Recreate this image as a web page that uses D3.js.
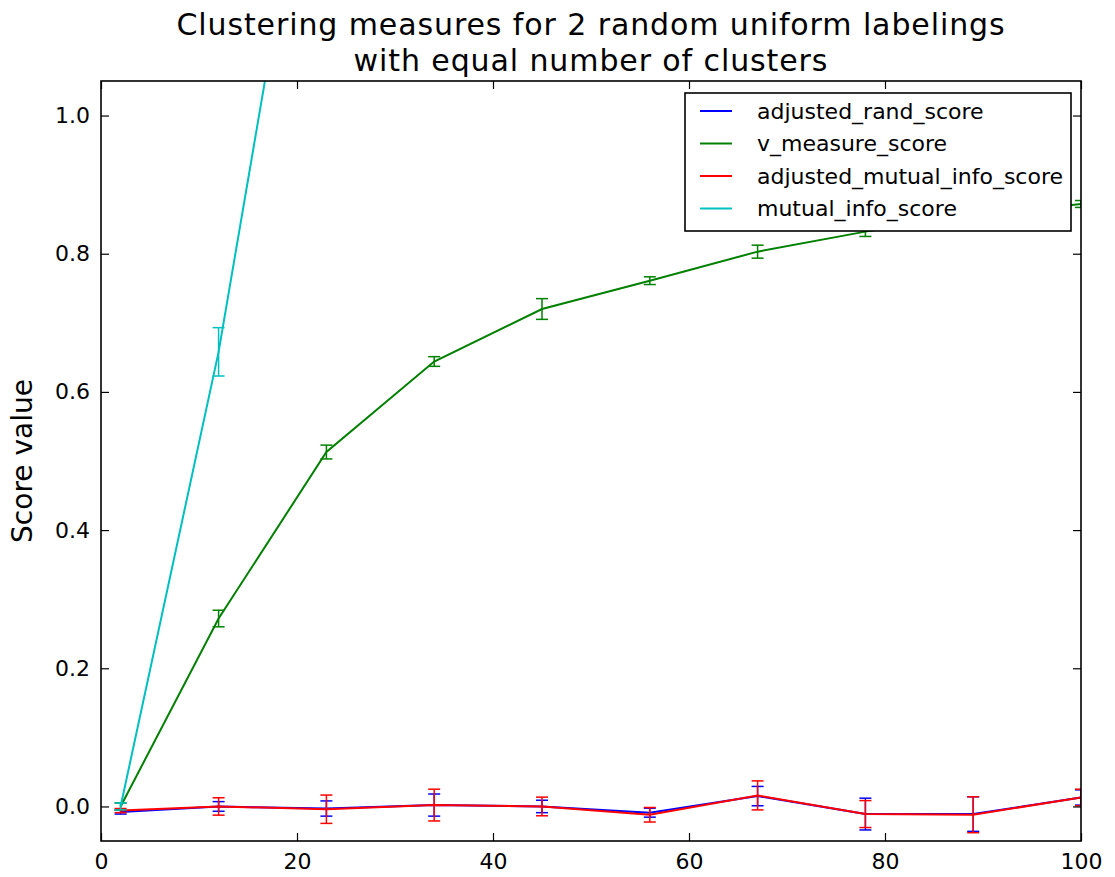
<!DOCTYPE html>
<html>
<head>
<meta charset="UTF-8">
<title>Clustering measures</title>
<style>
  body { margin: 0; background: #fff; }
  text { font-family: "DejaVu Sans", sans-serif; fill: #000; }
</style>
</head>
<body>
<script src="https://d3js.org/d3.v7.min.js"></script>
<svg></svg>
<script>
// number of clusters
let nClusters = [2, 12, 23, 34, 45, 56, 67, 78, 89, 100];

let seriesNames = ["adjusted_rand_score", "v_measure_score", "adjusted_mutual_info_score", "mutual_info_score"];
let seriesColors = ["#0000ff", "#008000", "#ff0000", "#00bfbf"];

let randMean = [-0.008, 0.0, -0.003, 0.002, 0.0, -0.009, 0.015, -0.011, -0.011, 0.013];
let randStd = [0.003, 0.007, 0.011, 0.016, 0.009, 0.0065, 0.014, 0.023, 0.025, 0.011];

let vMeasureMean = [0.0, 0.272, 0.513, 0.644, 0.72, 0.761, 0.803, 0.832, 0.855, 0.872];
let vMeasureStd = [0.005, 0.012, 0.01, 0.007, 0.015, 0.0056, 0.0094, 0.007, 0.007, 0.005];

let amiMean = [-0.006, 0.0, -0.004, 0.002, 0.0, -0.012, 0.016, -0.011, -0.012, 0.013];
let amiStd = [0.003, 0.0126, 0.0205, 0.023, 0.0135, 0.0105, 0.021, 0.0195, 0.026, 0.012];

let miMean = [0.0, 0.658, 1.57, 2.1, 2.5, 2.8, 3.05, 3.25, 3.45, 3.6];
let miStd = [0.005, 0.035, 0.04, 0.04, 0.04, 0.04, 0.04, 0.04, 0.04, 0.04];

let xTicks = [0, 20, 40, 60, 80, 100];
let yTicks = [0.0, 0.2, 0.4, 0.6, 0.8, 1.0];

let series = [
    {name: seriesNames[0], color: seriesColors[0], mean: randMean, std: randStd},
    {name: seriesNames[1], color: seriesColors[1], mean: vMeasureMean, std: vMeasureStd},
    {name: seriesNames[2], color: seriesColors[2], mean: amiMean, std: amiStd},
    {name: seriesNames[3], color: seriesColors[3], mean: miMean, std: miStd}
];

let margin = {top: 81, right: 34, bottom: 36, left: 101},
    width = 1115 - margin.left - margin.right,
    height = 877 - margin.top - margin.bottom;

let svg = d3.select("svg")
    .attr("width", 1115)
    .attr("height", 877);

let chart = svg.append("g")
    .attr("transform", "translate(" + margin.left + "," + margin.top + ")");

let xScale = d3.scaleLinear().domain([0, 100]).range([0, width]);
let yScale = d3.scaleLinear().domain([-0.05, 1.05]).range([height, 0]);

chart.append("clipPath").attr("id", "clip")
    .append("rect").attr("width", width).attr("height", height);

let plot = chart.append("g").attr("clip-path", "url(#clip)");

let line = d3.line()
    .x((d, i) => xScale(nClusters[i]))
    .y(d => yScale(d));

series.forEach(s => {
    plot.append("path")
        .datum(s.mean)
        .attr("fill", "none")
        .attr("stroke", s.color)
        .attr("stroke-width", 2)
        .attr("d", line);

    let bars = plot.append("g").selectAll("g")
        .data(s.mean.map((m, i) => ({x: nClusters[i], m: m, e: s.std[i]})))
        .enter().append("g")
        .attr("stroke", s.color)
        .attr("stroke-width", 1.5);
    bars.append("line")
        .attr("x1", d => xScale(d.x)).attr("x2", d => xScale(d.x))
        .attr("y1", d => yScale(d.m - d.e)).attr("y2", d => yScale(d.m + d.e));
    bars.append("line")
        .attr("x1", d => xScale(d.x) - 6).attr("x2", d => xScale(d.x) + 6)
        .attr("y1", d => yScale(d.m - d.e)).attr("y2", d => yScale(d.m - d.e));
    bars.append("line")
        .attr("x1", d => xScale(d.x) - 6).attr("x2", d => xScale(d.x) + 6)
        .attr("y1", d => yScale(d.m + d.e)).attr("y2", d => yScale(d.m + d.e));
});

// axes, ticks inside on all four sides
let fmt = d3.format(".1f");
chart.append("g")
    .attr("transform", "translate(0," + height + ")")
    .call(d3.axisBottom(xScale).tickValues(xTicks).tickSizeInner(-8).tickSizeOuter(0).tickPadding(12));
chart.append("g")
    .call(d3.axisTop(xScale).tickValues(xTicks).tickSizeInner(-8).tickSizeOuter(0).tickFormat(""));
chart.append("g")
    .call(d3.axisLeft(yScale).tickValues(yTicks).tickFormat(fmt).tickSizeInner(-8).tickSizeOuter(0).tickPadding(11));
chart.append("g")
    .attr("transform", "translate(" + width + ",0)")
    .call(d3.axisRight(yScale).tickValues(yTicks).tickSizeInner(-8).tickSizeOuter(0).tickFormat(""));

chart.selectAll(".domain").remove();
chart.selectAll(".tick line").attr("stroke", "#000").attr("stroke-width", 1.2);
chart.selectAll(".tick text")
    .style("font-family", "DejaVu Sans")
    .style("font-size", "22px")
    .attr("fill", "#000");

chart.append("rect")
    .attr("width", width).attr("height", height)
    .attr("fill", "none")
    .attr("stroke", "#000")
    .attr("stroke-width", 1.6);

// title
svg.append("text")
    .attr("x", margin.left + width / 2).attr("y", 35)
    .attr("text-anchor", "middle")
    .style("font-size", "30px")
    .style("letter-spacing", "0.9px")
    .text("Clustering measures for 2 random uniform labelings");
svg.append("text")
    .attr("x", margin.left + width / 2).attr("y", 71)
    .attr("text-anchor", "middle")
    .style("font-size", "30px")
    .style("letter-spacing", "0.9px")
    .text("with equal number of clusters");

// y label
svg.append("text")
    .attr("transform", "translate(32," + (margin.top + height / 2) + ") rotate(-90)")
    .attr("text-anchor", "middle")
    .style("font-size", "28px")
    .text("Score value");

// legend
let legend = svg.append("g").attr("transform", "translate(685,93)");
legend.append("rect")
    .attr("width", 386).attr("height", 138)
    .attr("fill", "#fff")
    .attr("stroke", "#000")
    .attr("stroke-width", 1.6);
let items = legend.selectAll("g.item")
    .data(series)
    .enter().append("g")
    .attr("transform", (d, i) => "translate(0," + (18 + i * 32.5) + ")");
items.append("line")
    .attr("x1", 15).attr("x2", 47)
    .attr("stroke", d => d.color)
    .attr("stroke-width", 2);
items.append("text")
    .attr("x", 72).attr("dy", "0.35em")
    .style("font-size", "22px")
    .text(d => d.name);
</script>
</body>
</html>
